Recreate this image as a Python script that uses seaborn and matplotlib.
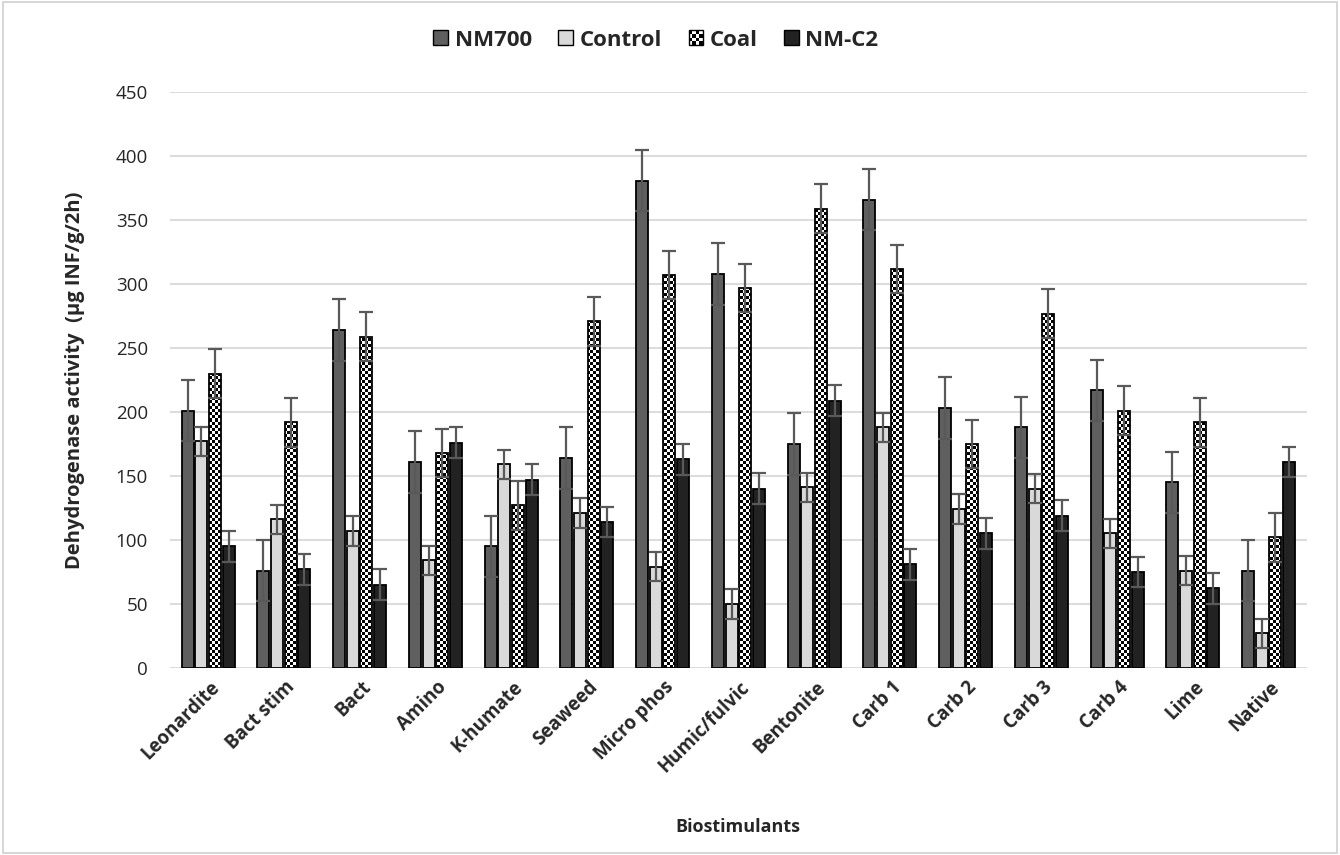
import numpy as np
import pandas as pd
import seaborn as sns
import matplotlib.pyplot as plt
from matplotlib.colors import ListedColormap
from matplotlib.patches import Patch, Rectangle
from matplotlib.legend_handler import HandlerBase
from matplotlib.transforms import ScaledTranslation

categories = ["Leonardite", "Bact stim", "Bact", "Amino", "K-humate", "Seaweed",
              "Micro phos", "Humic/fulvic", "Bentonite", "Carb 1", "Carb 2",
              "Carb 3", "Carb 4", "Lime", "Native"]
series = ["NM700", "Control", "Coal", "NM-C2"]

nm700 = [201, 76, 264, 161, 95, 164, 381, 308, 175, 366, 203, 188, 217, 145, 76]
control = [177, 116, 107, 84, 159, 121, 79, 50, 141, 188, 124, 140, 105, 76, 27]
coal = [230, 192, 259, 168, 127, 271, 307, 297, 359, 312, 175, 277, 201, 192, 102]
nmc2 = [95, 77, 65, 176, 147, 114, 163, 140, 209, 81, 105, 119, 75, 62, 161]

# error bar half-widths (same for every bar of a series)
err_nm700 = 24
err_control = 11.5
err_coal = 19
err_nmc2 = 12

values = {"NM700": nm700, "Control": control, "Coal": coal, "NM-C2": nmc2}
errors = {"NM700": err_nm700, "Control": err_control, "Coal": err_coal, "NM-C2": err_nmc2}
colors = {"NM700": "#5f5f5f", "Control": "#d9d9d9", "Coal": "#ffffff", "NM-C2": "#222222"}

rows = []
for s in series:
    for c, v in zip(categories, values[s]):
        rows.append({"Biostimulant": c, "Treatment": s, "value": v})
df = pd.DataFrame(rows)

sns.set_theme(style="white")
plt.rcParams['font.family'] = ['Open Sans', 'DejaVu Sans']

fig = plt.figure(figsize=(13.4, 8.55), dpi=100)
ax = fig.add_axes([0.127, 0.219, 0.848, 0.673])

sns.barplot(data=df, x="Biostimulant", y="value", hue="Treatment",
            order=categories, hue_order=series, palette=colors,
            width=0.72, gap=0.12, edgecolor="black", linewidth=1.3,
            errorbar=None, legend=False, ax=ax)

ax.set_ylim(0, 450)
ax.set_xlim(-0.5, len(categories) - 0.5)
ax.set_yticks(np.arange(0, 451, 50))
ax.yaxis.grid(True, color="#d9d9d9", linewidth=1.3)
ax.set_axisbelow(True)
sns.despine(ax=ax, left=True, bottom=True, top=True, right=True)

# checkerboard fill for Coal bars
ny, nx = 192, 379
yy, xx = np.mgrid[0:ny, 0:nx]
checker = ((xx + yy) % 2).astype(float)
cmap = ListedColormap(["white", "black"])

for s, cont in zip(series, ax.containers):
    xs = [p.get_x() + p.get_width() / 2 for p in cont]
    hs = [p.get_height() for p in cont]
    if s == "Coal":
        for p in cont:
            p.set_facecolor("none")
            im = ax.imshow(checker, cmap=cmap, extent=(-0.5, len(categories) - 0.5, 0, 450),
                           origin="lower", interpolation="nearest", aspect="auto",
                           zorder=p.get_zorder() - 0.01)
            im.set_clip_path(p)
    ax.errorbar(xs, hs, yerr=errors[s], fmt="none", ecolor="#595959",
                elinewidth=1.6, capsize=5, capthick=1.6, zorder=5)

ax.set_aspect("auto")
ax.set_xlim(-0.5, len(categories) - 0.5)
ax.set_ylim(0, 450)

ax.tick_params(axis="y", labelsize=13.5, length=0, pad=16)
ax.tick_params(axis="x", labelsize=13.5, length=0, pad=12)
shift = ScaledTranslation(6 / 72, 0, fig.dpi_scale_trans)
for lab in ax.get_xticklabels():
    lab.set_rotation(45)
    lab.set_ha("right")
    lab.set_va("center")
    lab.set_rotation_mode("anchor")
    lab.set_fontweight("bold")
    lab.set_transform(lab.get_transform() + shift)

ax.set_xlabel("Biostimulants", fontsize=13, fontweight="bold", labelpad=30)
ax.set_ylabel("Dehydrogenase activity  (µg INF/g/2h)", fontsize=14.5,
              fontweight="bold", labelpad=22)


class CheckerHandler(HandlerBase):
    def create_artists(self, legend, orig_handle, xdescent, ydescent,
                       width, height, fontsize, trans):
        arts = []
        n = 4
        side = min(width, height)
        x0 = -xdescent + (width - side) / 2
        y0 = -ydescent + (height - side) / 2
        cell = side / n
        for i in range(n):
            for j in range(n):
                col = "black" if (i + j) % 2 else "white"
                arts.append(Rectangle((x0 + i * cell, y0 + j * cell), cell, cell,
                                      facecolor=col, edgecolor="none", transform=trans))
        arts.append(Rectangle((x0, y0), side, side, facecolor="none",
                              edgecolor="black", linewidth=1, transform=trans))
        return arts


handles = [Patch(facecolor=colors[s], edgecolor="black", linewidth=1) for s in series]
handles[2] = Patch(label="Coal")
fig.legend(handles, series, loc="center", bbox_to_anchor=(656 / 1340, 1 - 40 / 855),
           ncol=4, frameon=False, handlelength=0.65, handleheight=0.65,
           handletextpad=0.3, columnspacing=1.2,
           prop={"weight": "bold", "size": 16},
           handler_map={handles[2]: CheckerHandler()})

fig.patches.append(Rectangle((0.002, 0.002), 0.996, 0.996, transform=fig.transFigure,
                             facecolor="none", edgecolor="#d0d0d0", linewidth=1.2))

fig.savefig("out.png", dpi=100)
